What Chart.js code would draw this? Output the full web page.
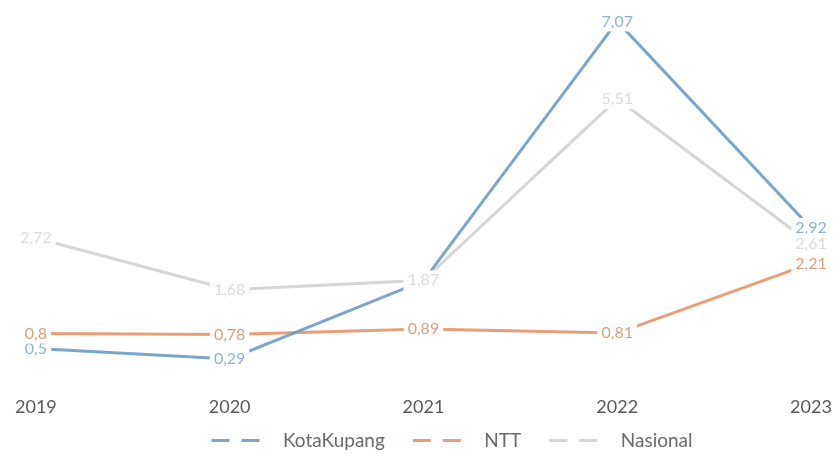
<!DOCTYPE html>
<html>
<head>
<meta charset="utf-8">
<script src="https://cdn.jsdelivr.net/npm/chart.js@4.4.0/dist/chart.umd.min.js"></script>
<style>
  html, body { margin: 0; padding: 0; background: #fff; }
  #wrap { width: 837px; height: 462px; position: relative; }
</style>
</head>
<body>
<div id="wrap"><canvas id="myChart"></canvas></div>
<script>
const years = ["2019", "2020", "2021", "2022", "2023"];
const kotaKupang = [0.5, 0.29, 1.86, 7.07, 2.92];
const ntt = [0.8, 0.78, 0.89, 0.81, 2.21];
const nasional = [2.72, 1.68, 1.87, 5.51, 2.61];

const lineColors = ["rgba(110,155,200,0.9)", "rgba(232,140,95,0.85)", "rgba(210,210,210,0.9)"];
const labelColors = ["#8fb2d2", "#d9a07c", "#dcdcdc"];

// draws value labels centred on each point, on a white box
const pointLabels = {
  id: "pointLabels",
  afterDatasetsDraw(chart) {
    const c = chart.ctx;
    c.save();
    c.font = "16px Lato";
    c.textAlign = "center";
    c.textBaseline = "middle";
    chart.data.datasets.forEach(function(ds, i) {
      const meta = chart.getDatasetMeta(i);
      meta.data.forEach(function(pt, j) {
        const txt = String(ds.data[j]).replace(".", ",");
        const w = c.measureText(txt).width;
        c.fillStyle = "#fff";
        c.fillRect(pt.x - w / 2 - 4, pt.y - 10, w + 8, 20);
        c.fillStyle = labelColors[i];
        c.fillText(txt, pt.x, pt.y);
      });
    });
    c.restore();
  }
};

// legend sits a bit right of centre in the original; also keep the x labels from being clipped
const layoutTweak = {
  id: "layoutTweak",
  afterLayout(chart) {
    chart.legend.left += 27;
    chart.legend.right += 27;
    chart.scales.x.bottom = chart.scales.x.top + 60;
  }
};

const ctx = document.getElementById("myChart").getContext("2d");
const myChart = new Chart(ctx, {
  type: "line",
  data: {
    labels: years,
    datasets: [
      { label: "KotaKupang", data: kotaKupang, borderColor: lineColors[0], borderWidth: 3 },
      { label: "NTT", data: ntt, borderColor: lineColors[1], borderWidth: 3 },
      { label: "Nasional", data: nasional, borderColor: lineColors[2], borderWidth: 3 }
    ]
  },
  options: {
    responsive: true,
    maintainAspectRatio: false,
    animation: false,
    elements: { point: { radius: 0 }, line: { tension: 0 } },
    layout: { padding: { left: 13, right: 0, top: 0, bottom: 2 } },
    scales: {
      x: {
        offset: false,
        grid: { display: false },
        border: { display: false },
        ticks: { color: "#595959", font: { family: "Lato", size: 18 }, padding: 15 },
        afterFit: function(scale) {
          scale.height -= 30;
          scale.paddingRight = 26;
        }
      },
      y: { display: false, min: 0, max: 7.5 }
    },
    plugins: {
      tooltip: { enabled: false },
      legend: {
        position: "bottom",
        labels: {
          color: "#6a6a6a",
          font: { family: "Lato", size: 19 },
          usePointStyle: true,
          pointStyleWidth: 62,
          boxHeight: 3,
          padding: 28,
          generateLabels: function(chart) {
            const items = Chart.defaults.plugins.legend.labels.generateLabels(chart);
            items.forEach(function(it) {
              it.pointStyle = "line";
              it.lineDash = [18, 12, 18, 100];
              it.lineWidth = 3;
            });
            return items;
          }
        }
      }
    }
  },
  plugins: [pointLabels, layoutTweak]
});
</script>
</body>
</html>
